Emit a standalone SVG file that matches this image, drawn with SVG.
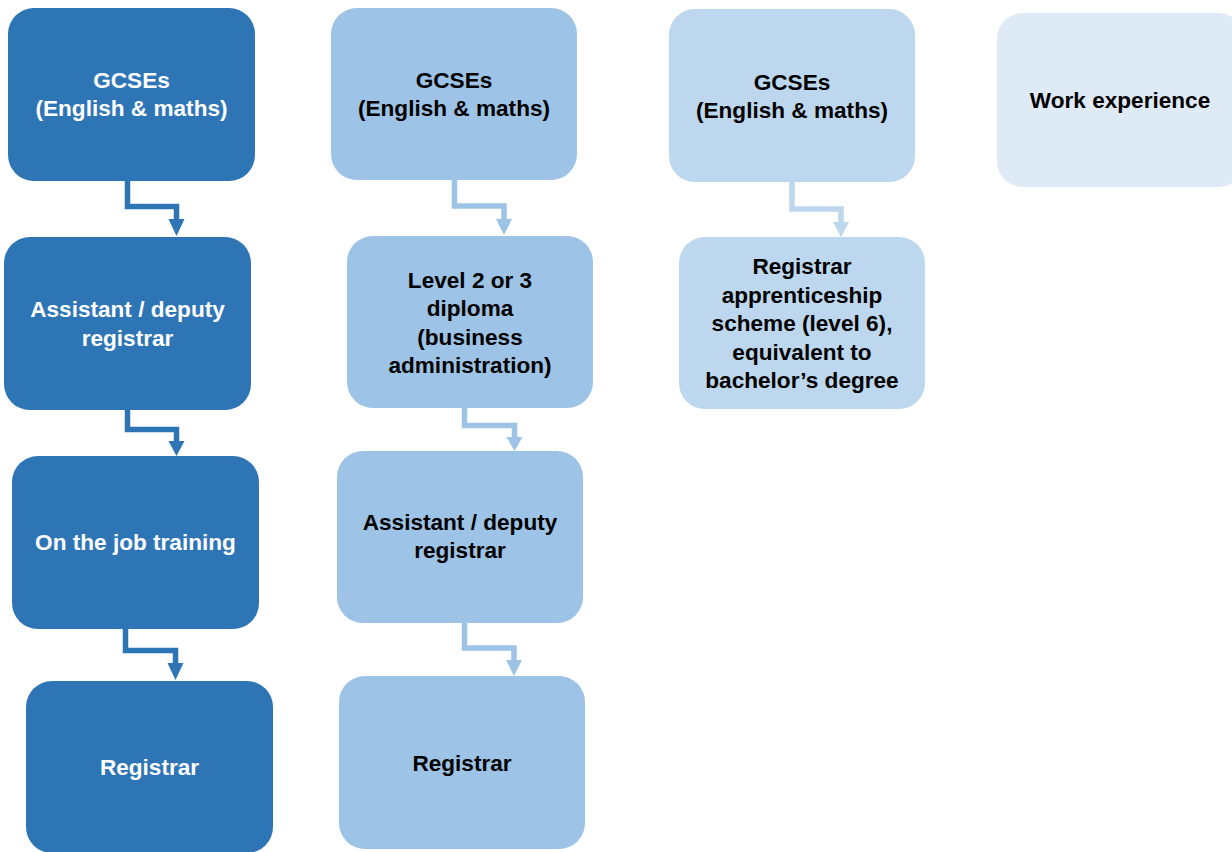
<svg xmlns="http://www.w3.org/2000/svg" width="1232" height="852" viewBox="0 0 1232 852">
<style>
.t{font-family:"Liberation Sans",Arial,sans-serif;font-weight:bold;font-size:22.6px;text-anchor:middle}
.w{fill:#ffffff}
.k{fill:#000000}
.c1{fill:#2E75B6}
.c2{fill:#9DC3E6}
.c3{fill:#BDD7EE}
.c4{fill:#DEEBF7}
.l{fill:none;stroke-width:5.5;stroke-linejoin:miter}
</style>
<rect width="1232" height="852" fill="#ffffff"/>
<g id="connectors">
<path class="l" stroke="#2E75B6" d="M127.5 181 V206.5 H176.5 V221"/>
<polygon class="c1" points="168.5,219 184.5,219 176.5,236"/>
<path class="l" stroke="#2E75B6" d="M127.5 410 V429.5 H176.5 V443"/>
<polygon class="c1" points="168.5,441 184.5,441 176.5,456"/>
<path class="l" stroke="#2E75B6" d="M125.5 628 V650.5 H175.5 V665"/>
<polygon class="c1" points="167.5,663 183.5,663 175.5,680"/>
<path class="l" stroke="#9DC3E6" d="M454.5 180 V206 H504 V221"/>
<polygon class="c2" points="496,219 512,219 504,235"/>
<path class="l" stroke="#9DC3E6" d="M464.5 408 V425.5 H514.5 V439"/>
<polygon class="c2" points="506.5,437 522.5,437 514.5,451"/>
<path class="l" stroke="#9DC3E6" d="M464.5 623 V648 H514 V662"/>
<polygon class="c2" points="506,660 522,660 514,676"/>
<path class="l" stroke="#BDD7EE" d="M792 182 V209 H841 V224"/>
<polygon class="c3" points="833,222 849,222 841,237"/>
</g>
<g id="n1a"><rect class="c1" x="8" y="8" width="247" height="173" rx="26"/>
<text class="t w" x="131.5" y="88">GCSEs</text><text class="t w" x="131.5" y="116">(English &amp; maths)</text></g>
<g id="n1b"><rect class="c1" x="4" y="237" width="247" height="173" rx="26"/>
<text class="t w" x="127.5" y="317">Assistant / deputy</text><text class="t w" x="127.5" y="346">registrar</text></g>
<g id="n1c"><rect class="c1" x="12" y="456" width="247" height="173" rx="26"/>
<text class="t w" x="135.5" y="550">On the job training</text></g>
<g id="n1d"><rect class="c1" x="26" y="681" width="247" height="172" rx="26"/>
<text class="t w" x="149.5" y="775">Registrar</text></g>
<g id="n2a"><rect class="c2" x="331" y="8" width="246" height="172" rx="26"/>
<text class="t k" x="454" y="88">GCSEs</text><text class="t k" x="454" y="116">(English &amp; maths)</text></g>
<g id="n2b"><rect class="c2" x="347" y="236" width="246" height="172" rx="26"/>
<text class="t k" x="470" y="288">Level 2 or 3</text><text class="t k" x="470" y="316">diploma</text><text class="t k" x="470" y="345">(business</text><text class="t k" x="470" y="373">administration)</text></g>
<g id="n2c"><rect class="c2" x="337" y="451" width="246" height="172" rx="26"/>
<text class="t k" x="460" y="530">Assistant / deputy</text><text class="t k" x="460" y="558">registrar</text></g>
<g id="n2d"><rect class="c2" x="339" y="676" width="246" height="173" rx="26"/>
<text class="t k" x="462" y="771">Registrar</text></g>
<g id="n3a"><rect class="c3" x="669" y="9" width="246" height="173" rx="26"/>
<text class="t k" x="792" y="90">GCSEs</text><text class="t k" x="792" y="118">(English &amp; maths)</text></g>
<g id="n3b"><rect class="c3" x="679" y="237" width="246" height="172" rx="26"/>
<text class="t k" x="802" y="274">Registrar</text><text class="t k" x="802" y="303">apprenticeship</text><text class="t k" x="802" y="331">scheme (level 6),</text><text class="t k" x="802" y="360">equivalent to</text><text class="t k" x="802" y="388">bachelor’s degree</text></g>
<g id="n4a"><rect class="c4" x="997" y="13" width="247" height="174" rx="26"/>
<text class="t k" x="1120" y="108">Work experience</text></g>
</svg>
